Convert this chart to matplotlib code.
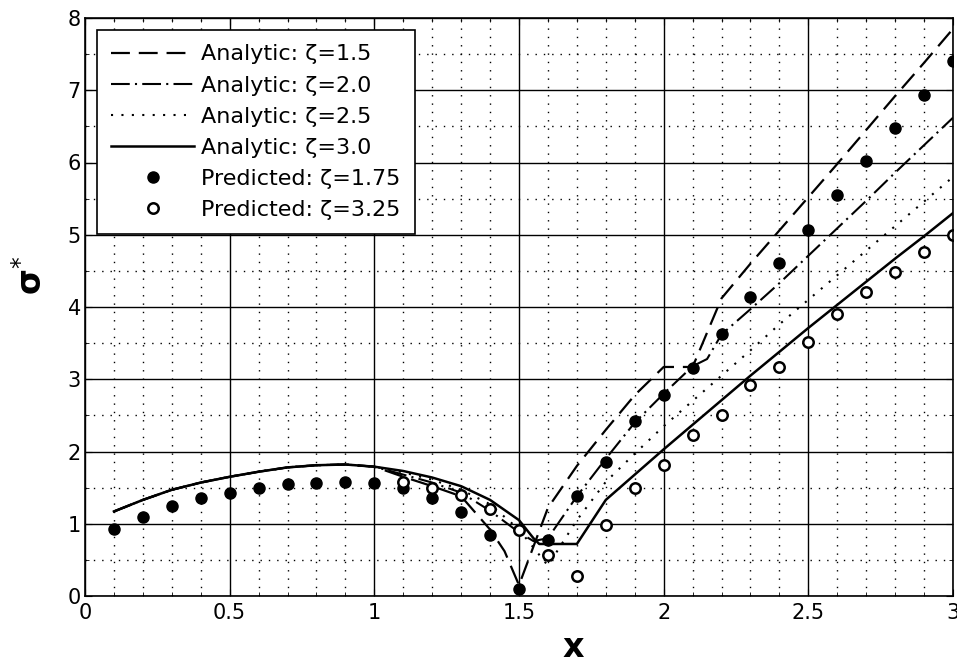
import numpy as np
import matplotlib
matplotlib.use('Agg')
from matplotlib import pyplot as plt
from matplotlib.ticker import MultipleLocator

plt.rcParams['font.family'] = ['DejaVu Sans']

# shared rising part of the analytic curves, x = 0.1 .. 1.0
x_left = [0.1, 0.2, 0.3, 0.4, 0.5, 0.6, 0.7, 0.8, 0.9, 1.0]
y_left = [1.17, 1.33, 1.47, 1.57, 1.65, 1.72, 1.78, 1.81, 1.82, 1.79]

x_a15 = x_left + [1.1, 1.2, 1.3, 1.4, 1.45, 1.5, 1.6, 1.7, 1.8, 1.9, 2.0, 2.1,
                  2.2, 2.3, 2.4, 2.5, 2.6, 2.7, 2.8, 2.9, 3.0]
y_a15 = y_left + [1.65, 1.52, 1.38, 0.92, 0.62, 0.15, 1.22, 1.80, 2.30, 2.78, 3.17, 3.17,
                  4.12, 4.60, 5.06, 5.52, 5.98, 6.45, 6.92, 7.38, 7.85]

x_a20 = x_left + [1.1, 1.2, 1.3, 1.4, 1.5, 1.55, 1.6, 1.7, 1.8, 1.9, 2.0, 2.1, 2.15,
                  2.2, 2.3, 2.4, 2.5, 2.6, 2.7, 2.8, 2.9, 3.0]
y_a20 = y_left + [1.68, 1.57, 1.43, 1.18, 0.88, 0.76, 0.80, 1.38, 1.90, 2.40, 2.80, 3.18, 3.28,
                  3.62, 3.97, 4.33, 4.71, 5.09, 5.47, 5.86, 6.24, 6.62]

x_a25 = x_left + [1.1, 1.2, 1.3, 1.4, 1.5, 1.6, 1.7, 1.8, 1.9, 2.0,
                  2.1, 2.2, 2.3, 2.4, 2.5, 2.6, 2.7, 2.8, 2.9, 3.0]
y_a25 = y_left + [1.71, 1.61, 1.47, 1.27, 0.92, 0.42, 1.05, 1.58, 1.97, 2.35,
                  2.70, 3.05, 3.40, 3.76, 4.10, 4.44, 4.78, 5.12, 5.46, 5.80]

x_a30 = x_left + [1.1, 1.2, 1.3, 1.4, 1.5, 1.55, 1.57, 1.7, 1.8, 1.9, 2.0,
                  2.1, 2.2, 2.3, 2.4, 2.5, 2.6, 2.7, 2.8, 2.9, 3.0]
y_a30 = y_left + [1.73, 1.64, 1.52, 1.33, 1.05, 0.80, 0.72, 0.72, 1.33, 1.68, 2.03,
                  2.37, 2.71, 3.05, 3.38, 3.71, 4.03, 4.35, 4.67, 4.98, 5.30]

x_p175 = [0.1, 0.2, 0.3, 0.4, 0.5, 0.6, 0.7, 0.8, 0.9, 1.0,
          1.1, 1.2, 1.3, 1.4, 1.5, 1.6, 1.7, 1.8, 1.9, 2.0,
          2.1, 2.2, 2.3, 2.4, 2.5, 2.6, 2.7, 2.8, 2.9, 3.0]
y_p175 = [0.93, 1.09, 1.24, 1.35, 1.43, 1.50, 1.55, 1.57, 1.58, 1.57,
          1.49, 1.36, 1.16, 0.84, 0.10, 0.78, 1.38, 1.85, 2.42, 2.78,
          3.16, 3.62, 4.14, 4.61, 5.07, 5.55, 6.02, 6.48, 6.93, 7.40]

x_p325 = [1.1, 1.2, 1.3, 1.4, 1.5, 1.6, 1.7, 1.8, 1.9, 2.0,
          2.1, 2.2, 2.3, 2.4, 2.5, 2.6, 2.7, 2.8, 2.9, 3.0]
y_p325 = [1.58, 1.49, 1.40, 1.21, 0.91, 0.57, 0.28, 0.98, 1.49, 1.81,
          2.23, 2.51, 2.92, 3.17, 3.52, 3.90, 4.21, 4.49, 4.76, 5.00]

x_ticks = [0, 0.5, 1, 1.5, 2, 2.5, 3]
x_ticklabels = ['0', '0.5', '1', '1.5', '2', '2.5', '3']
y_ticks = [0, 1, 2, 3, 4, 5, 6, 7, 8]

fig = plt.figure(figsize=(9.57, 6.68), dpi=100)
ax = fig.add_axes([85 / 957, 1 - 596 / 668, 868 / 957, 578 / 668])

ax.plot(x_a15, y_a15, color='k', lw=1.6, ls=(0, (8.5, 4)), label='Analytic: ζ=1.5')
ax.plot(x_a20, y_a20, color='k', lw=1.5, ls=(0, (9, 2.5, 1, 2.5)), label='Analytic: ζ=2.0')
ax.plot(x_a25, y_a25, color='k', lw=1.5, ls=(0, (1, 4)), label='Analytic: ζ=2.5')
ax.plot(x_a30, y_a30, color='k', lw=1.8, ls='-', label='Analytic: ζ=3.0')
ax.plot(x_p175, y_p175, 'o', color='k', ms=8, label='Predicted: ζ=1.75')
ax.plot(x_p325, y_p325, 'o', mfc='white', mec='k', mew=1.8, ms=7.5,
        label='Predicted: ζ=3.25')

ax.set_xlim(0, 3)
ax.set_ylim(0, 8)
ax.set_xticks(x_ticks)
ax.set_xticklabels(x_ticklabels)
ax.set_yticks(y_ticks)
ax.xaxis.set_minor_locator(MultipleLocator(0.1))
ax.yaxis.set_minor_locator(MultipleLocator(0.5))
ax.tick_params(which='both', direction='in', labelsize=15, top=True, right=True)
ax.tick_params(axis='x', pad=5)
ax.tick_params(axis='y', pad=3)
ax.tick_params(which='major', length=5)
ax.tick_params(which='minor', length=3)
ax.set_axisbelow(True)
ax.grid(which='major', color='k', lw=1.0, ls='-')
ax.grid(which='minor', color='k', lw=1.0, ls=(0, (1, 5)))
for s in ax.spines.values():
    s.set_linewidth(1.2)

ax.set_xlabel('x', fontsize=24, fontweight='bold')
ax.xaxis.set_label_coords(0.562, -0.06)
ax.set_ylabel('σ$^{*}$', fontsize=24, fontweight='bold')
ax.yaxis.set_label_coords(-0.042, 0.555)

leg = ax.legend(loc='upper left', bbox_to_anchor=(12 / 868, 1 - 12 / 578),
                borderaxespad=0, fontsize=16, handlelength=3.7, handletextpad=0.35,
                labelspacing=0.5, borderpad=0.65, fancybox=False, framealpha=1,
                edgecolor='k')
leg.get_frame().set_linewidth(1.2)

plt.savefig('out.png', dpi=100)
